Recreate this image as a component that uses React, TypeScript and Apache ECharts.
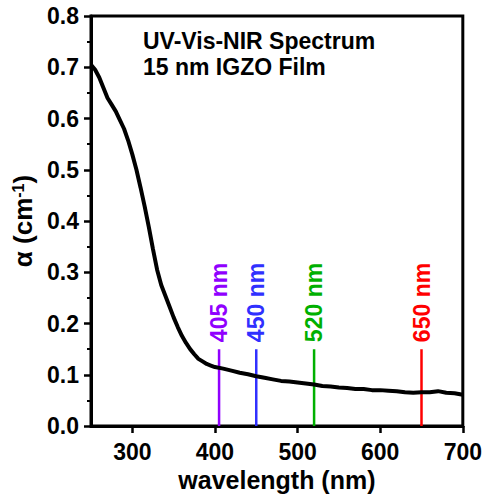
import React, { useEffect, useRef } from "react";
import * as echarts from "echarts";

// Absorption spectrum of the 15 nm IGZO film
const wavelengths = [
  250, 255, 260, 265, 270, 275, 280, 285, 290, 295, 300, 305, 310, 315, 320, 325,
  330, 335, 340, 345, 350, 355, 360, 365, 370, 375, 380, 385, 390, 395, 400, 410,
  420, 430, 440, 450, 460, 470, 480, 490, 500, 510, 520, 530, 540, 550, 560, 570,
  580, 590, 600, 610, 620, 630, 640, 650, 660, 670, 680, 690, 700,
];
const alpha = [
  0.705, 0.695, 0.68, 0.66, 0.64, 0.627, 0.614, 0.597, 0.58, 0.557, 0.53, 0.5,
  0.465, 0.428, 0.388, 0.345, 0.305, 0.275, 0.254, 0.233, 0.212, 0.193, 0.176,
  0.162, 0.15, 0.14, 0.131, 0.126, 0.121, 0.118, 0.115, 0.112, 0.108, 0.104,
  0.101, 0.097, 0.094, 0.091, 0.088, 0.087, 0.085, 0.083, 0.081, 0.078, 0.077,
  0.075, 0.074, 0.072, 0.072, 0.07, 0.07, 0.069, 0.068, 0.066, 0.065, 0.066,
  0.066, 0.068, 0.065, 0.064, 0.061,
];

// Laser lines marked on the spectrum
const laserWavelengths = [405, 450, 520, 650];
const laserColors = ["#9000ff", "#3030ff", "#00b000", "#ff0000"];
const laserTop = 0.15;

const xTickValues = [300, 400, 500, 600, 700];
const titleLines = ["UV-Vis-NIR Spectrum", "15 nm IGZO Film"];

const FONT = "'Liberation Sans', Arial, Helvetica, sans-serif";

export default function App() {
  const ref = useRef<HTMLDivElement>(null);

  useEffect(() => {
    if (!ref.current) return;
    const chart = echarts.init(ref.current, null, { renderer: "svg" });

    const laserSeries = laserWavelengths.map((w, i) => ({
      type: "line",
      name: `${w} nm`,
      symbol: "circle",
      symbolSize: 0,
      showSymbol: true,
      silent: true,
      z: 3,
      lineStyle: { color: laserColors[i], width: 2.5 },
      itemStyle: { color: laserColors[i] },
      data: [
        { value: [w, 0], label: { show: false } },
        {
          value: [w, laserTop],
          label: {
            show: true,
            formatter: `${w} nm`,
            position: "top",
            distance: 7,
            rotate: 90,
            align: "left",
            verticalAlign: "middle",
            color: laserColors[i],
            fontFamily: FONT,
            fontWeight: "bold",
            fontSize: 23,
          },
        },
      ],
    }));

    chart.setOption({
      animation: false,
      backgroundColor: "#fff",
      title: {
        text: titleLines.join("\n"),
        left: 138,
        top: 23,
        textStyle: {
          fontFamily: FONT,
          fontWeight: "bold",
          fontSize: 23,
          lineHeight: 26,
          color: "#000",
        },
      },
      grid: {
        left: 91,
        right: 22,
        top: 16,
        bottom: 72,
        show: true,
        borderColor: "#000",
        borderWidth: 3,
        backgroundColor: "transparent",
      },
      xAxis: {
        type: "value",
        min: 250,
        max: 700,
        name: "wavelength (nm)",
        nameLocation: "middle",
        nameGap: 38,
        nameTextStyle: {
          fontFamily: FONT,
          fontWeight: "bold",
          fontSize: 25,
          color: "#000",
        },
        axisLine: { show: true, onZero: false, lineStyle: { color: "#000", width: 3 } },
        axisTick: {
          show: true,
          customValues: xTickValues,
          length: 7,
          lineStyle: { color: "#000", width: 2.5 },
        },
        axisLabel: {
          customValues: xTickValues,
          margin: 14,
          fontFamily: FONT,
          fontWeight: "bold",
          fontSize: 23,
          color: "#000",
        },
        splitLine: { show: false },
      },
      yAxis: {
        type: "value",
        min: 0,
        max: 0.8,
        interval: 0.1,
        name: "α (cm{sup|-1})",
        nameLocation: "middle",
        nameGap: 54,
        nameTextStyle: {
          fontFamily: FONT,
          fontWeight: "bold",
          fontSize: 26,
          color: "#000",
          rich: {
            sup: {
              fontFamily: FONT,
              fontWeight: "bold",
              fontSize: 16,
              color: "#000",
              verticalAlign: "top",
              padding: [0, 0, 9, 0],
            },
          },
        },
        axisLine: { show: true, onZero: false, lineStyle: { color: "#000", width: 3 } },
        axisTick: { show: true, length: 7, lineStyle: { color: "#000", width: 2.5 } },
        minorTick: { show: true, splitNumber: 2, length: 4, lineStyle: { color: "#000", width: 2 } },
        axisLabel: {
          margin: 12,
          formatter: (v: number) => v.toFixed(1),
          fontFamily: FONT,
          fontWeight: "bold",
          fontSize: 23,
          color: "#000",
        },
        splitLine: { show: false },
      },
      series: [
        {
          type: "line",
          name: "α",
          symbol: "none",
          silent: true,
          z: 4,
          lineStyle: { color: "#000", width: 4 },
          data: wavelengths.map((w, i) => [w, alpha[i]]),
        },
        ...laserSeries,
      ],
    });

    return () => chart.dispose();
  }, []);

  return (
    <div
      ref={ref}
      style={{ position: "fixed", left: 0, top: 0, width: 485, height: 498 }}
    />
  );
}
